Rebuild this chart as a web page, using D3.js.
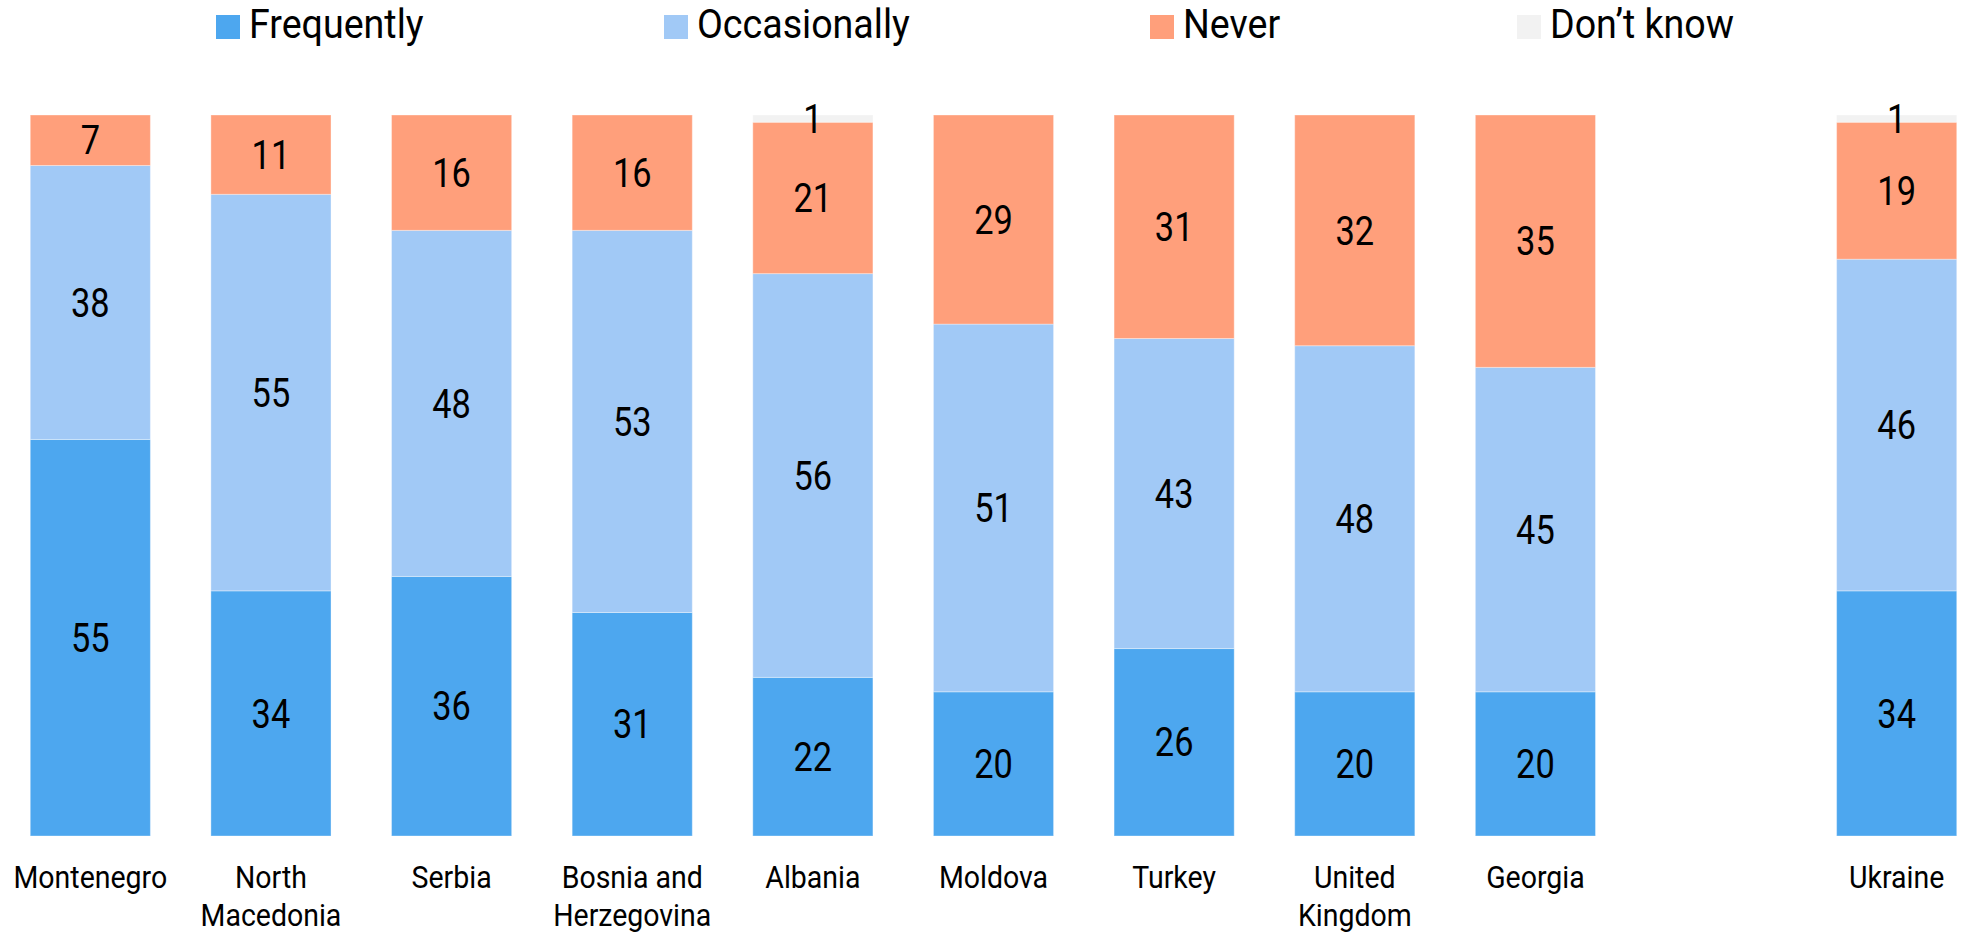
<!DOCTYPE html>
<html>
<head>
<meta charset="utf-8">
<script src="https://cdn.jsdelivr.net/npm/d3@7"></script>
<style>
  html, body { margin: 0; padding: 0; background: #fff; }
  svg { display: block; }
  text { font-family: Roboto, "Liberation Sans", sans-serif; fill: #000; }
</style>
</head>
<body>
<svg id="chart" width="1962" height="932"></svg>
<script>
// ---- data ----
const categories = ["Montenegro", "North Macedonia", "Serbia", "Bosnia and Herzegovina", "Albania", "Moldova", "Turkey", "United Kingdom", "Georgia", "Ukraine"];
const tickLabels = ["Montenegro", "North|Macedonia", "Serbia", "Bosnia and|Herzegovina", "Albania", "Moldova", "Turkey", "United|Kingdom", "Georgia", "Ukraine"];
const seriesNames = ["Frequently", "Occasionally", "Never", "Don’t know"];
const frequently   = [55, 34, 36, 31, 22, 20, 26, 20, 20, 34];
const occasionally = [38, 55, 48, 53, 56, 51, 43, 48, 45, 46];
const never        = [7, 11, 16, 16, 21, 29, 31, 32, 35, 19];
const dontKnow     = [0, 0, 0, 0, 1, 0, 0, 0, 0, 1];
const gapAfter = "Georgia";

// ---- style/layout ----
const colors = ["#4DA7EF", "#A1C9F6", "#FF9F7B", "#F2F2F2"];
const plotTop = 115, plotBottom = 836;
const sxNum = 0.86, sxAxis = 0.89, sxLegend = 0.94;

const svg = d3.select("#chart");

const domain = [];
categories.forEach(c => { domain.push(c); if (c === gapAfter) domain.push("__gap__"); });

const x = d3.scaleBand().domain(domain).range([0, 1987]).paddingInner(0.335).paddingOuter(0.1675);
const y = d3.scaleLinear().domain([0, 100]).range([plotBottom, plotTop]);

const table = categories.map((c, i) => ({
  cat: c,
  "Frequently": frequently[i],
  "Occasionally": occasionally[i],
  "Never": never[i],
  "Don’t know": dontKnow[i]
}));
const stacked = d3.stack().keys(seriesNames)(table);

const g = svg.append("g");
stacked.forEach((layer, li) => {
  const lg = g.append("g");
  lg.selectAll("rect").data(layer).join("rect")
    .attr("x", d => x(d.data.cat))
    .attr("width", x.bandwidth())
    .attr("y", d => y(d[1]))
    .attr("height", d => y(d[0]) - y(d[1]))
    .attr("fill", colors[li])
    .attr("stroke", "#ffffff").attr("stroke-opacity", 0.35).attr("stroke-width", 1);
  lg.selectAll("text").data(layer.filter(d => d[1] - d[0] > 0)).join("text")
    .attr("transform", d => `translate(${x(d.data.cat) + x.bandwidth() / 2},${(y(d[0]) + y(d[1])) / 2}) scale(${sxNum},1)`)
    .attr("text-anchor", "middle")
    .attr("dy", "0.355em")
    .attr("font-size", 40)
    .text(d => d[1] - d[0]);
});

// x axis
const labelMap = new Map(categories.map((c, i) => [c, tickLabels[i]]));
const axis = svg.append("g").attr("transform", `translate(0,${plotBottom})`)
  .call(d3.axisBottom(x).tickSize(0).tickValues(categories).tickFormat(d => ""));
axis.select(".domain").remove();
axis.selectAll(".tick text").each(function(d) {
  const t = d3.select(this);
  t.text(null)
    .attr("y", 52).attr("dy", null)
    .attr("font-size", 32)
    .attr("font-family", "Roboto")
    .attr("fill", "#000")
    .attr("transform", `scale(${sxAxis},1)`);
  labelMap.get(d).split("|").forEach((line, k) => {
    t.append("tspan").attr("x", 0).attr("dy", k === 0 ? 0 : 37.7).text(line);
  });
});

// legend
const legendX = [216, 664, 1150, 1517];
const leg = svg.append("g");
seriesNames.forEach((s, i) => {
  const item = leg.append("g").attr("transform", `translate(${legendX[i]},0)`);
  item.append("rect").attr("x", 0).attr("y", 15).attr("width", 24).attr("height", 24).attr("fill", colors[i]);
  item.append("text").attr("transform", `translate(33,38.3) scale(${sxLegend},1)`)
    .attr("font-size", 40).text(s);
});
</script>
</body>
</html>
